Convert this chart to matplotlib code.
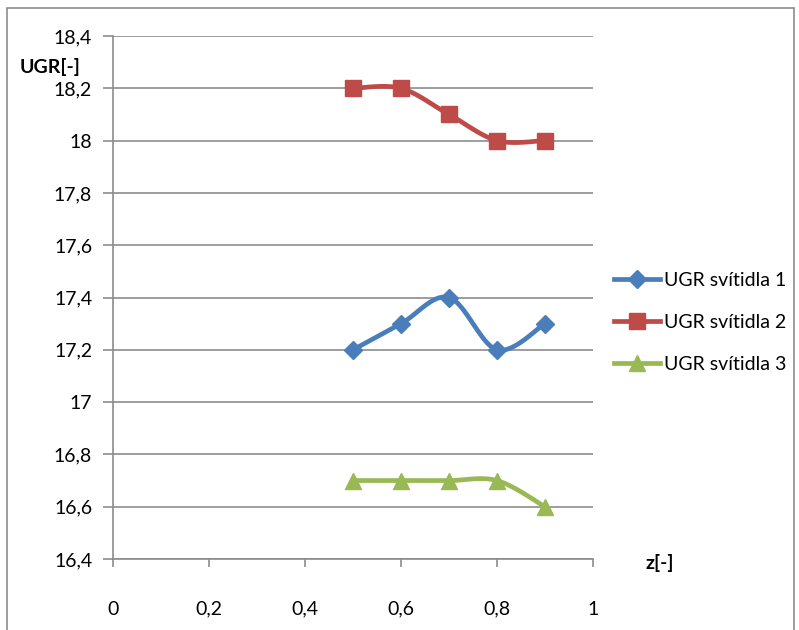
import numpy as np
import matplotlib
matplotlib.use('Agg')
import matplotlib.pyplot as plt
from matplotlib.patches import Rectangle
from matplotlib.ticker import FuncFormatter

# data
z = [0.5, 0.6, 0.7, 0.8, 0.9]
ugr_1 = [17.2, 17.3, 17.4, 17.2, 17.3]
ugr_2 = [18.2, 18.2, 18.1, 18.0, 18.0]
ugr_3 = [16.7, 16.7, 16.7, 16.7, 16.6]
labels = ['UGR svítidla 1', 'UGR svítidla 2', 'UGR svítidla 3']

plt.rcParams['font.family'] = ['Lato', 'DejaVu Sans']


def smooth(xs, ys, n=30):
    # excel-like smoothed line: bezier segments, control points from neighbours
    xs = np.asarray(xs, float)
    ys = np.asarray(ys, float)
    px, py = [], []
    m = len(xs)
    for i in range(m - 1):
        i0 = max(i - 1, 0)
        i3 = min(i + 2, m - 1)
        c1x = xs[i] + (xs[i + 1] - xs[i0]) / 6
        c1y = ys[i] + (ys[i + 1] - ys[i0]) / 6
        c2x = xs[i + 1] - (xs[i3] - xs[i]) / 6
        c2y = ys[i + 1] - (ys[i3] - ys[i]) / 6
        t = np.linspace(0, 1, n)
        bx = ((1 - t)**3 * xs[i] + 3 * (1 - t)**2 * t * c1x
              + 3 * (1 - t) * t**2 * c2x + t**3 * xs[i + 1])
        by = ((1 - t)**3 * ys[i] + 3 * (1 - t)**2 * t * c1y
              + 3 * (1 - t) * t**2 * c2y + t**3 * ys[i + 1])
        px.extend(bx)
        py.extend(by)
    return px, py


fig = plt.figure(figsize=(7.99, 6.3), dpi=100)
fig.patches.append(Rectangle((0.009, -0.1), 0.985, 1.087, transform=fig.transFigure,
                             fill=False, edgecolor='#8c8c8c', linewidth=1.2))
ax = fig.add_axes([113 / 799, 1 - 559 / 630, 480 / 799, 523 / 630])

series = [
    (ugr_1, '#4a7ebb', 'D', 9),
    (ugr_2, '#be4b48', 's', 12),
    (ugr_3, '#98b954', '^', 12),
]
handles = []
for (vals, col, mk, ms), lab in zip(series, labels):
    sx, sy = smooth(z, vals)
    ax.plot(sx, sy, color=col, linewidth=3.4, solid_capstyle='round', zorder=3)
    ax.plot(z, vals, linestyle='none', marker=mk, markersize=ms,
            color=col, zorder=4)
    h, = ax.plot([], [], color=col, linewidth=3.4, marker=mk, markersize=ms,
                 label=lab)
    handles.append(h)

ax.set_xlim(0, 1)
ax.set_ylim(16.4, 18.4)
ax.set_xticks(np.arange(0, 1.01, 0.2))
ax.set_yticks(np.arange(16.4, 18.41, 0.2))
fmt = FuncFormatter(lambda v, p: ('%g' % round(v, 2)).replace('.', ','))
ax.xaxis.set_major_formatter(fmt)
ax.yaxis.set_major_formatter(fmt)
ax.grid(axis='y', color='#8c8c8c', linewidth=1.2)
ax.set_axisbelow(True)
for s in ['top', 'right']:
    ax.spines[s].set_visible(False)
for s in ['left', 'bottom']:
    ax.spines[s].set_color('#8c8c8c')
    ax.spines[s].set_linewidth(1.2)
ax.tick_params(axis='y', length=7, color='#8c8c8c', width=1.2,
               labelsize=14, pad=8)
ax.tick_params(axis='x', length=6, color='#8c8c8c', width=1.2,
               labelsize=14, pad=24)

fig.text(20 / 799, 1 - 67 / 630, 'UGR[-]', fontsize=14, fontweight='bold',
         va='center', ha='left')
fig.text(645 / 799, 1 - 563 / 630, 'z[-]', fontsize=14, fontweight='bold',
         va='center', ha='left')

fig.legend(handles=handles, loc='upper left',
           bbox_to_anchor=(596 / 799, 1 - 254 / 630), frameon=False,
           fontsize=14, handlelength=2.4, handletextpad=0.2,
           labelspacing=1.3)

fig.savefig('out.png', dpi=100)
